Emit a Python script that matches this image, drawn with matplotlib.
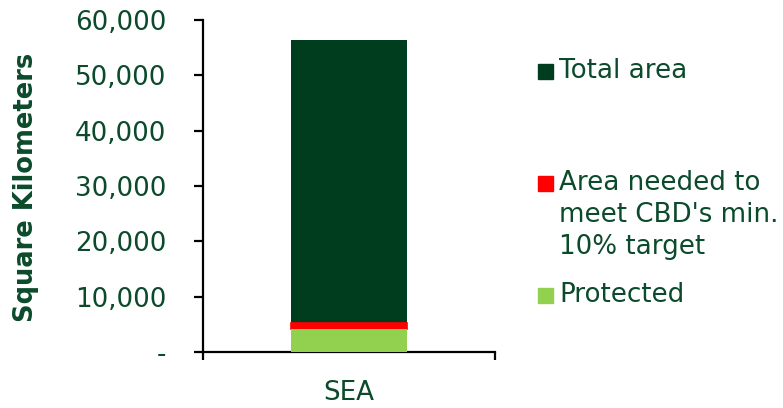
import numpy as np
import matplotlib
matplotlib.use('Agg')
from matplotlib import pyplot as plt
from matplotlib.patches import Rectangle

# data
regions = ['SEA']
total_area = [56400]
protected = [4100]
needed_10pct = [5300]

series_labels = ['Total area', "Area needed to\nmeet CBD's min.\n10% target", 'Protected']
yticks = [0, 10000, 20000, 30000, 40000, 50000, 60000]

dark_green = '#003d1e'
red = '#ff0000'
light_green = '#92d050'
text_green = '#0b4a2a'

plt.rcParams['font.family'] = ['DejaVu Sans']

fig = plt.figure(figsize=(7.83, 4.08), dpi=100)
ax = fig.add_axes([203 / 783, 1 - 352 / 408, 292 / 783, 332 / 408])

x = np.arange(len(regions))
total_area = np.array(total_area)
protected = np.array(protected)
needed_10pct = np.array(needed_10pct)

ax.bar(x, total_area, width=0.4, color=dark_green, zorder=2)
ax.bar(x, needed_10pct - protected, bottom=protected, width=0.4, color=red,
       edgecolor=red, linewidth=1.2, zorder=3)
ax.bar(x, protected, width=0.4, color=light_green, zorder=4)

ax.set_xlim(-0.5, 0.5)
ax.set_ylim(0, 60000)
ax.set_yticks(yticks)
ax.set_yticklabels(['-' if v == 0 else f'{v:,}' for v in yticks])
ax.set_xticks([-0.5, 0.5])
ax.set_xticklabels(['', ''])
ax.set_xticks(x, minor=True)
ax.set_xticklabels(regions, minor=True)

for s in ['top', 'right']:
    ax.spines[s].set_visible(False)
for s in ['left', 'bottom']:
    ax.spines[s].set_linewidth(1.6)

ax.tick_params(axis='y', direction='out', length=6.5, width=1.6, pad=20,
               labelsize=18.8, labelcolor=text_green)
ax.tick_params(axis='x', which='major', direction='out', length=6, width=1.6)
ax.tick_params(axis='x', which='minor', length=0, pad=20.5, labelsize=18.8,
               labelcolor=text_green)

fig.text(26 / 783, 1 - 187 / 408, 'Square Kilometers', rotation=90, fontsize=18.5,
         fontweight='bold', color=text_green, ha='center', va='center')

# legend, drawn by hand to keep Excel's uneven spacing
legend_colors = [dark_green, red, light_green]
legend_y = [71, 215, 295]
marker_y = [71, 183, 295]
for lab, col, ty, my in zip(series_labels, legend_colors, legend_y, marker_y):
    fig.patches.append(Rectangle((538 / 783, 1 - (my + 7.5) / 408), 15 / 783, 15 / 408,
                                 transform=fig.transFigure, color=col))
    fig.text(559 / 783, 1 - ty / 408, lab, fontsize=18.8, color=text_green,
             ha='left', va='center', linespacing=1.3)

fig.savefig('out.png', dpi=100)
